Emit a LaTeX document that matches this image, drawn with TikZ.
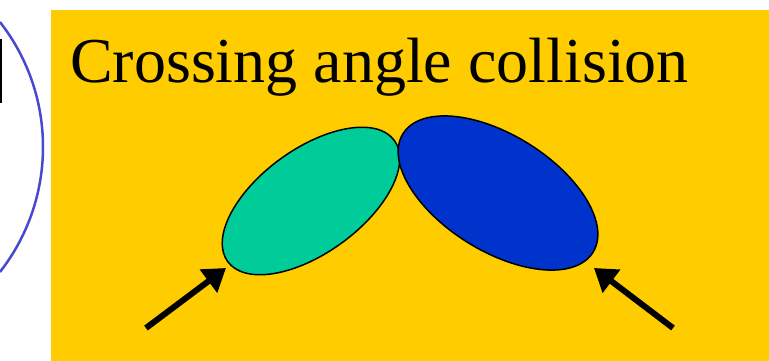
\documentclass[tikz,border=0pt]{standalone}
\usepackage{fontspec}
\setmainfont{Liberation Serif}
\usetikzlibrary{arrows.meta}
\definecolor{bgorange}{HTML}{FFCC00}
\definecolor{beamgreen}{HTML}{00CC99}
\definecolor{beamblue}{HTML}{0033CC}
\definecolor{ringblue}{HTML}{4848D0}
\tikzset{
  beam/.style={draw=black, line width=1.5pt},
  pusharrow/.style={line width=6pt, -{Triangle[length=22pt,width=28pt]}},
}
\begin{document}
\begin{tikzpicture}[x=1pt,y=-1pt]
\useasboundingbox (0,0) rectangle (769,361);
\fill[white] (0,0) rectangle (769,361);
% left fragments
\draw[ringblue, line width=2.5pt] (-160,147) ++(-38:203) arc[start angle=-38, end angle=38, radius=203];
\draw[black, line width=2.5pt] (1,39) -- (1,103);
% orange panel
\fill[bgorange] (51,10) rectangle (769,361);
\node[anchor=base west, inner sep=0pt, font=\fontsize{64}{76}\selectfont] (title) at (70,82) {Crossing angle collision};
% beams
\draw[beam, fill=beamgreen] (311,201) ellipse[x radius=103, y radius=52, rotate=36] ;
\draw[beam, fill=beamblue] (498,193) ellipse[x radius=112, y radius=58, rotate=-32];
\coordinate (lt) at (226,268);
\coordinate (ls) at (146,328);
\coordinate (rt) at (594,268);
\coordinate (rs) at (673,328);
\draw[pusharrow] (ls) -- (lt);
\draw[pusharrow] (rs) -- (rt);
\end{tikzpicture}
\end{document}
